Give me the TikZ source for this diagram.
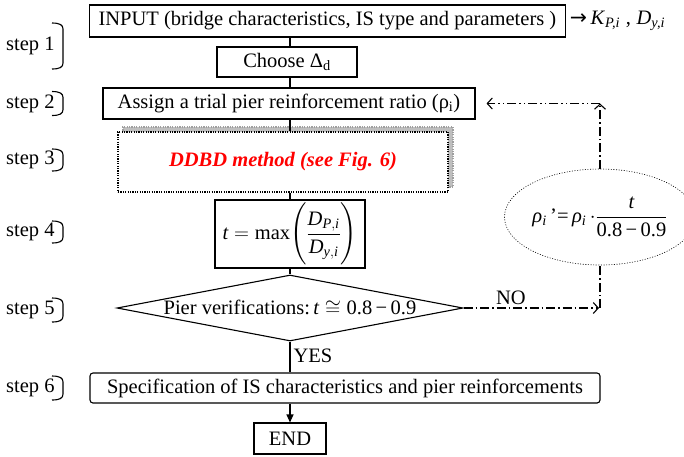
\documentclass[tikz,border=0pt]{standalone}
\usepackage{amsmath}
\usepackage{fontspec}
\setmainfont{Liberation Serif}
\newfontfamily\arrowfont{DejaVu Sans}
\usetikzlibrary{shapes.geometric,arrows.meta,shadows}

\tikzset{
  base/.style={font=\fontsize{20.5}{24}\selectfont},
  pbox/.style={base, draw, line width=1.1pt, inner sep=0pt},
  link/.style={line width=1.1pt},
  dashdot/.style={line width=1.1pt, dash pattern=on 9pt off 3pt on 1.5pt off 3pt},
  dashdotdot/.style={line width=1.1pt, dash pattern=on 9pt off 3pt on 1.5pt off 3pt on 1.5pt off 3pt},
  barb/.style={-{Straight Barb[length=5pt,width=11pt]}},
  steplbl/.style={base, anchor=west, inner sep=0pt},
  brk/.style={line width=1.1pt},
}

\begin{document}
\begin{tikzpicture}[x=1pt,y=-1pt]
\useasboundingbox (0,0) rectangle (684,456);

% flow boxes
\node[pbox, anchor=west, minimum height=32pt, inner xsep=9pt] (input) at (89,21)
  {INPUT (bridge characteristics, IS type and parameters )};
\node[base, anchor=west, inner sep=0pt] (kd) at ([xshift=4pt]input.east)
  {{\arrowfont →}\,\textit{K}\textsubscript{\textit{P,i}}\;,\;\textit{D}\textsubscript{\textit{y,i}}};
\node[pbox, minimum width=140pt, minimum height=30pt] (choose) at (287,62)
  {Choose Δ\textsubscript{d}};
\node[pbox, minimum width=372pt, minimum height=31pt] (assign) at (289,103.5)
  {Assign a trial pier reinforcement ratio (ρ\textsubscript{i})};
\node[base, draw, fill=white, line width=1.2pt, dash pattern=on 1.2pt off 1.2pt,
  minimum width=330pt, minimum height=60pt, inner sep=0pt,
  drop shadow={shadow xshift=5pt, shadow yshift=5pt, fill=gray!50, draw=gray!75, opacity=1},
  text=red, font=\fontsize{20.5}{24}\selectfont\bfseries\itshape] (ddbd) at (283,162)
  {DDBD method (see Fig. 6)};
\node[pbox, minimum width=150pt, minimum height=68pt] (tbox) at (290,234)
  {\(\textit{t} = \text{max}\Biggl(\dfrac{\textit{D}_{\textit{P},\textit{i}}}{\textit{D}_{\textit{y},\textit{i}}}\Biggr)\)};
\node[pbox, diamond, aspect=5.2, minimum width=346pt, minimum height=66pt] (dia) at (290,308)
  {Pier verifications:\,\(\textit{t}\cong\text{0.8\,−\,0.9}\)};
\node[pbox, rounded corners=3pt, minimum width=510pt, minimum height=30pt] (spec) at (345,388)
  {Specification of IS characteristics and pier reinforcements};
\node[pbox, minimum width=72pt, minimum height=31pt] (fin) at (290,438.5) {END};

% update rule for the reinforcement ratio
\node[base, ellipse, draw, line width=0.6pt, dash pattern=on 1pt off 1.6pt,
  minimum width=168pt, minimum height=96pt, inner sep=0pt] (upd) at (600,217)
  {\textit{ρ}\textsubscript{\textit{i}}\,'=\,\textit{ρ}\textsubscript{\textit{i}}\,\(\cdot\dfrac{\textit{t}}{\text{0.8\,−\,0.9}}\)};

\coordinate (top) at (upd.north |- assign.east);
\coordinate (nocorner) at (upd.north |- dia.east);

% connectors
\draw[link] (tbox.north |- input.south) -- (tbox.north |- choose.north);
\draw[link] (tbox.north |- choose.south) -- (tbox.north |- assign.north);
\draw[link] (tbox.north |- assign.south) -- (tbox.north |- ddbd.north);
\draw[link] (tbox.north |- ddbd.south) -- (tbox.north);
\draw[link] (tbox.south) -- (dia.north);
\draw[link] (dia.south) -- node[base, pos=0.45, anchor=west, inner sep=3pt] (yes) {YES} (dia.south |- spec.north);
\draw[link, -{Triangle[length=8pt,width=7pt]}] (fin.north |- spec.south) -- (fin.north);

% loop back when the verification fails
\draw[dashdot, barb] (dia.east) -- node[base, pos=0.35, above, inner sep=3pt] (no) {NO} ([xshift=-1pt]nocorner);
\draw[dashdot] (nocorner) -- (upd.south);
\draw[dashdot, barb] (upd.north) -- (top);
\draw[dashdotdot, barb, shorten >=11pt] (top) -- (assign.east);

% step labels with their brackets
\foreach \n/\y/\h in {1/46/23, 2/103.5/12, 3/160/11, 4/232/11, 5/310/12, 6/388/12}{
  \node[steplbl] (step\n) at (6,\y) {step \n};
  \draw[brk] (52,\y-\h) .. controls (60,\y-\h) and (63,\y-\h+2) .. (63,\y-\h+6)
    -- (63,\y+\h-6) .. controls (63,\y+\h-2) and (60,\y+\h) .. (52,\y+\h);
}
\end{tikzpicture}
\end{document}
